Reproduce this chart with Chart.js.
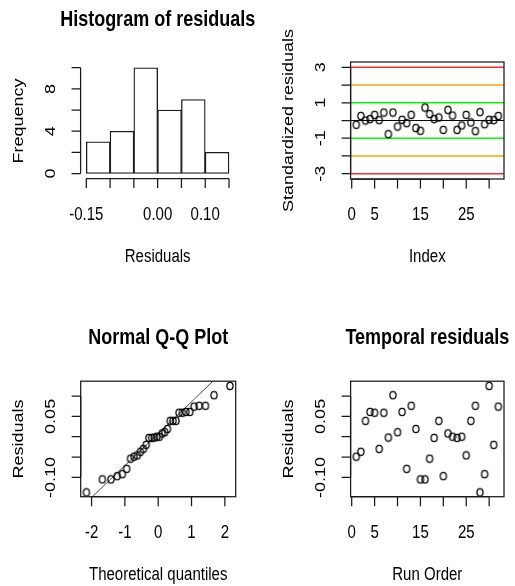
<!DOCTYPE html>
<html>
<head>
<meta charset="utf-8">
<script src="https://cdn.jsdelivr.net/npm/chart.js@4/dist/chart.umd.min.js"></script>
<style>
  body { margin: 0; background: #fff; }
  #wrap { position: relative; width: 515px; height: 586px; }
  #wrap canvas { position: absolute; left: 0; top: 0; }
</style>
</head>
<body>
<div id="wrap">
  <canvas id="histPlot" width="515" height="586"></canvas>
  <canvas id="indexPlot" width="515" height="586"></canvas>
  <canvas id="qqPlot" width="515" height="586"></canvas>
  <canvas id="timePlot" width="515" height="586"></canvas>
</div>
<script>
// --- data ---
const histBreaks = [-0.15, -0.10, -0.05, 0.00, 0.05, 0.10, 0.15];
const histCounts = [3, 4, 10, 6, 7, 2];

const runOrder = [1, 2, 3, 4, 5, 6, 7, 8, 9, 10, 11, 12, 13, 14, 15, 16,
                  17, 18, 19, 20, 21, 22, 23, 24, 25, 26, 27, 28, 29, 30, 31, 32];

const stdResiduals = [-0.24, 0.26, 0.00, 0.08, 0.32, 0.02, 0.45, -0.77, 0.45, -0.34, 0.04, -0.15,
                      0.32, -0.43, -0.58, 0.73, 0.36, 0.08, 0.17, -0.53, 0.60, 0.28, -0.53, -0.28,
                      0.32, -0.11, -0.60, 0.47, -0.21, 0.04, 0.02, 0.26];

const residuals = [-0.049, -0.037, 0.039, 0.061, 0.059, -0.030, 0.059, -0.002, 0.102, 0.011, 0.061, -0.079,
                   0.076, 0.019, -0.105, -0.105, -0.054, -0.003, 0.039, -0.097, 0.008, 0.000, -0.003, 0.000,
                   -0.046, 0.039, 0.076, -0.137, -0.092, 0.125, -0.020, 0.074];

const theoQuantiles = [-2.154, -1.676, -1.418, -1.230, -1.077, -0.947, -0.831, -0.725, -0.626, -0.534, -0.445,
                       -0.360, -0.278, -0.197, -0.118, -0.039, 0.039, 0.118, 0.197, 0.278, 0.360, 0.445,
                       0.534, 0.626, 0.725, 0.831, 0.947, 1.077, 1.230, 1.418, 1.676, 2.154];
const sampleQuantiles = [-0.137, -0.105, -0.105, -0.097, -0.092, -0.079, -0.054, -0.049, -0.046, -0.037, -0.030,
                         -0.020, -0.003, -0.003, -0.002, 0.000, 0.000, 0.008, 0.011, 0.019, 0.039, 0.039,
                         0.039, 0.059, 0.059, 0.061, 0.061, 0.074, 0.076, 0.076, 0.102, 0.125];
const qqIntercept = 0.0075;
const qqSlope = 0.0785;

const refLevels = [3, 2, 1, 0, -1, -2, -3];
const refColors = ['#ff2a2a', '#ffa500', '#00ff00', '#000000', '#00ff00', '#ffa500', '#ff2a2a'];

// tick positions and the labels R actually printed ('' = tick without label)
const histXTicks = [-0.15, -0.10, -0.05, 0.00, 0.05, 0.10, 0.15];
const histXLabels = ['-0.15', '', '', '0.00', '', '0.10', ''];
const histYTicks = [0, 2, 4, 6, 8, 10];
const histYLabels = ['0', '', '4', '', '8', ''];
const indexTicks = [0, 5, 10, 15, 20, 25, 30];
const indexLabels = ['0', '5', '', '15', '', '25', ''];
const stdTicks = [-3, -2, -1, 0, 1, 2, 3];
const stdLabels = ['-3', '', '-1', '', '1', '', '3'];
const residTicks = [-0.10, -0.05, 0.00, 0.05, 0.10];
const residLabels = ['-0.10', '', '', '0.05', ''];
const qqTicks = [-2, -1, 0, 1, 2];
const qqLabels = ['-2', '-1', '0', '1', '2'];

// --- drawing helpers (R base graphics look) ---
const SY = 1.2; // picture is stretched vertically
const FONT = "15px 'Liberation Sans', Arial, sans-serif";
const TITLE_FONT = "bold 18px 'Liberation Sans', Arial, sans-serif";
const INK = '#000';

function hText(ctx, txt, x, y, font) {
  ctx.save();
  ctx.translate(x, y);
  ctx.scale(1, SY);
  ctx.font = font;
  ctx.textAlign = 'center';
  ctx.textBaseline = 'alphabetic';
  ctx.fillText(txt, 0, 0);
  ctx.restore();
}

function vText(ctx, txt, x, y, font) {
  ctx.save();
  ctx.translate(x, y);
  ctx.rotate(-Math.PI / 2);
  ctx.scale(SY, 1);
  ctx.font = font;
  ctx.textAlign = 'center';
  ctx.textBaseline = 'alphabetic';
  ctx.fillText(txt, 0, 0);
  ctx.restore();
}

// open circle (pch = 1), slightly taller than wide like the reference
function ring(rx, ry) {
  const c = document.createElement('canvas');
  c.width = 10; c.height = 10;
  const g = c.getContext('2d');
  g.strokeStyle = INK;
  g.lineWidth = 1.25;
  g.beginPath();
  g.ellipse(5, 5, rx, ry, 0, 0, Math.PI * 2);
  g.stroke();
  return c;
}
const circle = ring(3.1, 3.6);

function rAxes(o) {
  return {
    id: 'rAxes',
    afterDraw(chart) {
      const ctx = chart.ctx, a = chart.chartArea;
      const sx = chart.scales.x, sy = chart.scales.y;
      ctx.save();
      ctx.strokeStyle = '#1a1a1a';
      ctx.fillStyle = INK;
      ctx.lineWidth = 1.25;
      if (o.box) ctx.strokeRect(a.left, a.top, a.right - a.left, a.bottom - a.top);

      // bottom axis
      const yb = a.bottom;
      ctx.beginPath();
      ctx.moveTo(sx.getPixelForValue(o.xTicks[0]), yb);
      ctx.lineTo(sx.getPixelForValue(o.xTicks[o.xTicks.length - 1]), yb);
      o.xTicks.forEach(t => {
        const p = sx.getPixelForValue(t);
        ctx.moveTo(p, yb);
        ctx.lineTo(p, yb + 9.5);
      });
      // left axis
      const xl = a.left;
      ctx.moveTo(xl, sy.getPixelForValue(o.yTicks[0]));
      ctx.lineTo(xl, sy.getPixelForValue(o.yTicks[o.yTicks.length - 1]));
      o.yTicks.forEach(t => {
        const p = sy.getPixelForValue(t);
        ctx.moveTo(xl, p);
        ctx.lineTo(xl - 9, p);
      });
      ctx.stroke();

      o.xTicks.forEach((t, i) => {
        if (o.xLabels[i]) hText(ctx, o.xLabels[i], sx.getPixelForValue(t), yb + 41, FONT);
      });
      o.yTicks.forEach((t, i) => {
        if (o.yLabels[i]) vText(ctx, o.yLabels[i], xl - 25.5, sy.getPixelForValue(t), FONT);
      });

      const cx = (a.left + a.right) / 2, cy = (a.top + a.bottom) / 2;
      if (o.title) hText(ctx, o.title, cx, a.top - 37.5, TITLE_FONT);
      hText(ctx, o.xlab, cx, a.bottom + 83, FONT);
      vText(ctx, o.ylab, a.left - 57.5, cy, FONT);
      ctx.restore();
    }
  };
}

function baseOptions(area, xMin, xMax, yMin, yMax) {
  return {
    responsive: false,
    animation: false,
    events: [],
    layout: { padding: { left: area.l, right: 515 - area.r, top: area.t, bottom: 586 - area.b } },
    plugins: { legend: { display: false }, tooltip: { enabled: false }, title: { display: false } },
    scales: {
      x: { type: 'linear', display: false, min: xMin, max: xMax, offset: false },
      y: { type: 'linear', display: false, min: yMin, max: yMax }
    }
  };
}

const pointStyleOpts = { pointStyle: circle, pointRadius: 4, borderWidth: 0, showLine: false };

// Histogram of residuals
new Chart(document.getElementById('histPlot'), {
  type: 'bar',
  data: {
    datasets: [{
      data: histCounts.map((c, i) => ({ x: (histBreaks[i] + histBreaks[i + 1]) / 2, y: c })),
      backgroundColor: '#ffffff',
      borderColor: '#1a1a1a',
      borderWidth: 1.3,
      borderSkipped: false,
      barPercentage: 1,
      categoryPercentage: 1
    }]
  },
  options: baseOptions({ l: 80.6, r: 234.7, t: 63.5, b: 178.5 }, -0.162, 0.162, -0.47, 10.4),
  plugins: [rAxes({
    xTicks: histXTicks, xLabels: histXLabels, yTicks: histYTicks, yLabels: histYLabels,
    title: 'Histogram of residuals', xlab: 'Residuals', ylab: 'Frequency', box: false
  })]
});

// Standardized residuals vs index
new Chart(document.getElementById('indexPlot'), {
  type: 'scatter',
  data: {
    datasets: [
      Object.assign({ data: runOrder.map((x, i) => ({ x: x, y: stdResiduals[i] })) }, pointStyleOpts)
    ].concat(refLevels.map((lv, i) => ({
      data: [{ x: -0.24, y: lv }, { x: 33.24, y: lv }],
      showLine: true, pointRadius: 0, borderColor: refColors[i], borderWidth: lv === 0 ? 1.2 : 1.6
    })))
  },
  options: baseOptions({ l: 350.6, r: 504, t: 62, b: 179 }, -0.24, 33.24, -3.3, 3.3),
  plugins: [rAxes({
    xTicks: indexTicks, xLabels: indexLabels, yTicks: stdTicks, yLabels: stdLabels,
    title: '', xlab: 'Index', ylab: 'Standardized residuals', box: true
  })]
});

// Normal Q-Q plot
const qqXMin = -2.326, qqXMax = 2.326;
new Chart(document.getElementById('qqPlot'), {
  type: 'scatter',
  data: {
    datasets: [
      Object.assign({ data: theoQuantiles.map((x, i) => ({ x: x, y: sampleQuantiles[i] })) }, pointStyleOpts),
      {
        data: [qqXMin, qqXMax].map(x => ({ x: x, y: qqIntercept + qqSlope * x })),
        showLine: true, pointRadius: 0, borderColor: '#333', borderWidth: 0.9
      }
    ]
  },
  options: baseOptions({ l: 80.7, r: 235.7, t: 381.2, b: 496.7 }, qqXMin, qqXMax, -0.1475, 0.1365),
  plugins: [rAxes({
    xTicks: qqTicks, xLabels: qqLabels, yTicks: residTicks, yLabels: residLabels,
    title: 'Normal Q-Q Plot', xlab: 'Theoretical quantiles', ylab: 'Residuals', box: true
  })]
});

// Temporal residuals
new Chart(document.getElementById('timePlot'), {
  type: 'scatter',
  data: {
    datasets: [
      Object.assign({ data: runOrder.map((x, i) => ({ x: x, y: residuals[i] })) }, pointStyleOpts)
    ]
  },
  options: baseOptions({ l: 350.6, r: 504, t: 381.2, b: 496.7 }, -0.24, 33.24, -0.1475, 0.1365),
  plugins: [rAxes({
    xTicks: indexTicks, xLabels: indexLabels, yTicks: residTicks, yLabels: residLabels,
    title: 'Temporal residuals', xlab: 'Run Order', ylab: 'Residuals', box: true
  })]
});
</script>
</body>
</html>
